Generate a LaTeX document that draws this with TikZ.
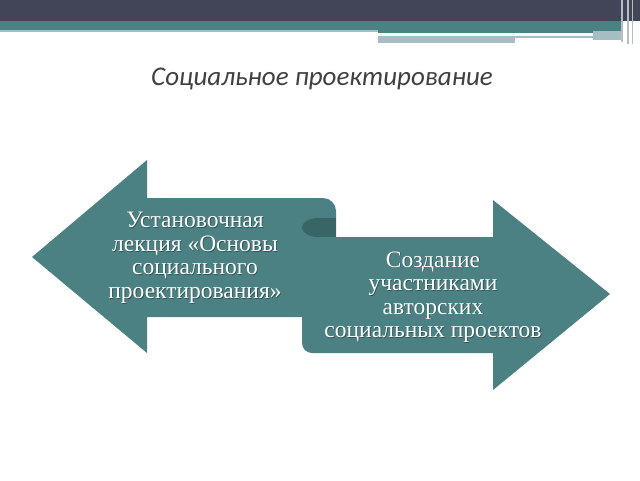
\documentclass[tikz,border=0pt]{standalone}
\usepackage{fontspec}
\setmainfont{Liberation Serif}
\newfontfamily\titlefont{Carlito}
\definecolor{topdark}{HTML}{424457}
\definecolor{topteal}{HTML}{4A8284}
\definecolor{toplight}{HTML}{A4BEC3}
\definecolor{arrowteal}{HTML}{4C8183}
\definecolor{curldark}{HTML}{386667}
\definecolor{titlegray}{HTML}{404040}
\definecolor{vline}{HTML}{B8BCC4}
\tikzset{
  arrowshape/.style={fill=arrowteal, draw=none},
  lbl/.style={text=white, align=center, font=\fontsize{23.5}{23.5}\selectfont, inner sep=0pt},
  lblshadow/.style={text=black, opacity=0.35, align=center, font=\fontsize{23.5}{23.5}\selectfont, inner sep=0pt},
}
\begin{document}
\begin{tikzpicture}[x=1pt,y=-1pt]
\useasboundingbox (0,0) rectangle (640,480);
\fill[white] (0,0) rectangle (640,480);
% top bar
\fill[topdark] (0,0) rectangle (640,21);
\fill[topteal] (0,21) rectangle (622,31);
\fill[toplight] (0,29.5) rectangle (378,31.5);
\fill[topteal] (378,29) rectangle (622,33);
\fill[toplight] (593,31) rectangle (622,40);
\fill[white!90!toplight] (378,33) rectangle (593,36);
\fill[toplight] (378,36) rectangle (593,38);
\fill[toplight] (378,38) rectangle (515,43);
\fill[vline] (621,0) rectangle (623,42);
\fill[vline] (627,0) rectangle (628.5,44);
\fill[vline] (631.5,0) rectangle (633,44);
% title
\node[font=\titlefont\itshape\fontsize{27}{30}\selectfont, text=titlegray, inner sep=0pt] (title) at (322,79) {Социальное проектирование};
% left arrow
\fill[arrowshape] (32,257) -- (147,160) -- (147,198) [rounded corners=13pt] -- (336,198) [sharp corners] -- (336,317) -- (147,317) -- (147,353) -- cycle;
% right arrow
\fill[arrowshape] (493,237) -- (493,200) -- (610,294) -- (493,390) -- (493,353) [rounded corners=10pt] -- (302,353) [sharp corners] -- (302,237) -- cycle;
% curl
\fill[curldark] (318,227.5) ellipse[x radius=16, y radius=9.5];
\fill[curldark] (318,218) rectangle (336,237);
% texts
\node[lblshadow] at (195.8,258.8) {Установочная\\лекция «Основы\\социального\\проектирования»};
\node[lbl] (lt) at (195,258) {Установочная\\лекция «Основы\\социального\\проектирования»};
\node[lblshadow] at (433.8,297.8) {Создание\\участниками\\авторских\\социальных проектов};
\node[lbl] (rt) at (433,297) {Создание\\участниками\\авторских\\социальных проектов};
\end{tikzpicture}
\end{document}
